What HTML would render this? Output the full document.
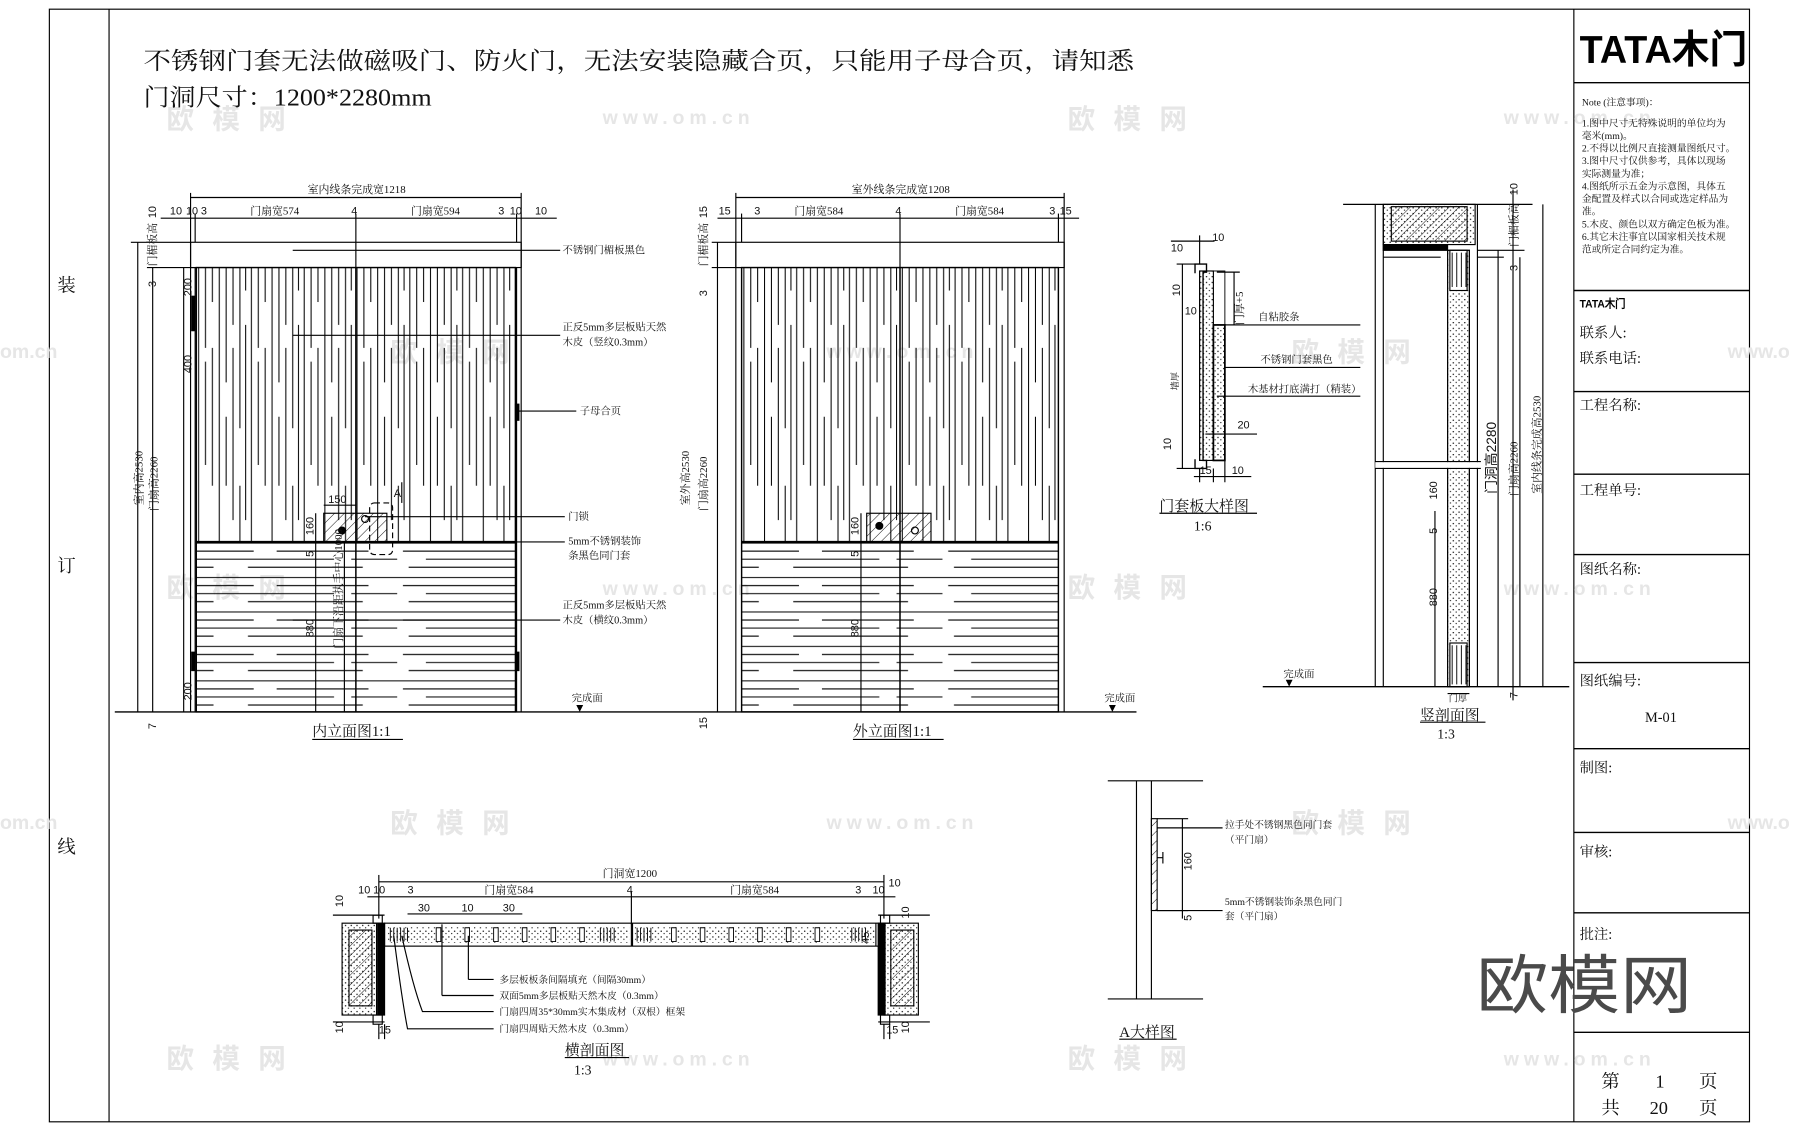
<!DOCTYPE html>
<html><head><meta charset="utf-8"><style>
html,body{margin:0;padding:0;background:#fff;}
svg{display:block}
.t{font-family:"Liberation Serif","Noto Serif CJK SC",serif;fill:#111}
.d{font-family:"Liberation Sans","Noto Sans CJK SC",sans-serif;fill:#111}
</style></head><body>
<svg width="1800" height="1131" viewBox="0 0 1568 985" preserveAspectRatio="none" xmlns="http://www.w3.org/2000/svg">
<defs>
<pattern id="vg" patternUnits="userSpaceOnUse" x="171" y="233" width="46" height="239">
<g stroke="#000" stroke-width="0.9">
<line x1="2" y1="0" x2="2" y2="239"/>
<line x1="8" y1="0" x2="8" y2="239" stroke-dasharray="70 12 90 67"/>
<line x1="14" y1="0" x2="14" y2="239" stroke-dasharray="30 40 120 49"/>
<line x1="20" y1="0" x2="20" y2="239"/>
<line x1="26" y1="0" x2="26" y2="239" stroke-dasharray="100 30 60 49"/>
<line x1="32" y1="0" x2="32" y2="239" stroke-dasharray="50 20 150 19"/>
<line x1="38" y1="0" x2="38" y2="239" stroke-dasharray="140 50 49 0"/>
<line x1="43" y1="0" x2="43" y2="239" stroke-dasharray="20 30 170 19"/>
</g></pattern>
<pattern id="hg" patternUnits="userSpaceOnUse" x="171" y="472" width="278" height="30">
<g stroke="#000" stroke-width="0.9">
<line x1="0" y1="1" x2="278" y2="1"/>
<line x1="0" y1="8" x2="278" y2="8" stroke-dasharray="50 20 80 30 98 0"/>
<line x1="0" y1="15" x2="278" y2="15" stroke-dasharray="120 15 40 25 78 0"/>
<line x1="0" y1="22" x2="278" y2="22" stroke-dasharray="15 30 100 40 93 0"/>
</g></pattern>
<pattern id="ht" patternUnits="userSpaceOnUse" width="6" height="6" patternTransform="rotate(45)">
<line x1="0" y1="0" x2="0" y2="6" stroke="#000" stroke-width="0.8"/></pattern>
<pattern id="dt" patternUnits="userSpaceOnUse" width="5" height="5">
<circle cx="1" cy="1" r="0.6" fill="#000"/><circle cx="3.5" cy="3" r="0.5" fill="#000"/></pattern>
</defs>

<!-- frame -->
<g fill="none" stroke="#000" stroke-width="1">
<rect x="43" y="8" width="1481" height="969"/>
<line x1="95" y1="8" x2="95" y2="977"/>
<line x1="1371" y1="8" x2="1371" y2="977"/>
<g stroke-width="1.2">
<line x1="1371" y1="72" x2="1524" y2="72"/><line x1="1371" y1="253" x2="1524" y2="253"/>
<line x1="1371" y1="341" x2="1524" y2="341"/><line x1="1371" y1="413" x2="1524" y2="413"/>
<line x1="1371" y1="483" x2="1524" y2="483"/><line x1="1371" y1="577" x2="1524" y2="577"/>
<line x1="1371" y1="652" x2="1524" y2="652"/><line x1="1371" y1="725" x2="1524" y2="725"/>
<line x1="1371" y1="795" x2="1524" y2="795"/><line x1="1371" y1="899" x2="1524" y2="899"/>
</g></g>
<text class="t" x="50" y="254" font-size="16">装</text>
<text class="t" x="50" y="498" font-size="16">订</text>
<text class="t" x="50" y="743" font-size="16">线</text>

<!-- watermarks -->
<g class="d" font-size="24" font-weight="bold" style="fill:#e6e6e6">
<text x="145" y="112" textLength="104">欧模网</text><text x="930" y="112" textLength="104">欧模网</text>
<text x="340" y="315" textLength="104">欧模网</text><text x="1125" y="315" textLength="104">欧模网</text>
<text x="145" y="520" textLength="104">欧模网</text><text x="930" y="520" textLength="104">欧模网</text>
<text x="340" y="725" textLength="104">欧模网</text><text x="1125" y="725" textLength="104">欧模网</text>
<text x="145" y="930" textLength="104">欧模网</text><text x="930" y="930" textLength="104">欧模网</text>
</g>
<g class="d" font-size="17" style="fill:#e6e6e6" font-weight="bold">
<text x="525" y="108" textLength="128">www.om.cn</text><text x="1310" y="108" textLength="128">www.om.cn</text>
<text x="0" y="312">om.cn</text><text x="720" y="312" textLength="128">www.om.cn</text><text x="1505" y="312">www.o</text>
<text x="525" y="518" textLength="128">www.om.cn</text><text x="1310" y="518" textLength="128">www.om.cn</text>
<text x="0" y="722">om.cn</text><text x="720" y="722" textLength="128">www.om.cn</text><text x="1505" y="722">www.o</text>
<text x="525" y="928" textLength="128">www.om.cn</text><text x="1310" y="928" textLength="128">www.om.cn</text>
</g>

<!-- title -->
<text class="t" x="125" y="60" font-size="21" textLength="863" lengthAdjust="spacingAndGlyphs">不锈钢门套无法做磁吸门、防火门，无法安装隐藏合页，只能用子母合页，请知悉</text>
<text class="t" x="125" y="92" font-size="21" textLength="251" lengthAdjust="spacingAndGlyphs">门洞尺寸：1200*2280mm</text>

<!-- title block texts -->
<text x="1376" y="55" font-family="Liberation Sans,Noto Sans CJK SC,sans-serif" font-weight="bold" font-size="34" textLength="146" lengthAdjust="spacingAndGlyphs">TATA木门</text>
<g class="t" font-size="8.5">
<text x="1378" y="92">Note (注意事项)：</text>
<text x="1378" y="110">1.图中尺寸无特殊说明的单位均为</text>
<text x="1378" y="121">毫米(mm)。</text>
<text x="1378" y="132">2.不得以比例尺直接测量图纸尺寸。</text>
<text x="1378" y="143">3.图中尺寸仅供参考，具体以现场</text>
<text x="1378" y="154">实际测量为准；</text>
<text x="1378" y="165">4.图纸所示五金为示意图，具体五</text>
<text x="1378" y="176">金配置及样式以合同或选定样品为</text>
<text x="1378" y="187">准。</text>
<text x="1378" y="198">5.木皮、颜色以双方确定色板为准。</text>
<text x="1378" y="209">6.其它未注事宜以国家相关技术规</text>
<text x="1378" y="220">范或所定合同约定为准。</text>
</g>
<text x="1376" y="268" font-family="Liberation Sans,sans-serif" font-weight="bold" font-size="10" textLength="40" lengthAdjust="spacingAndGlyphs">TATA木门</text>
<g class="t" font-size="12.5">
<text x="1376" y="294">联系人:</text><text x="1376" y="316">联系电话:</text>
<text x="1376" y="357">工程名称:</text><text x="1376" y="431">工程单号:</text>
<text x="1376" y="500">图纸名称:</text><text x="1376" y="597">图纸编号:</text>
<text x="1433" y="629">M-01</text>
<text x="1376" y="673">制图:</text><text x="1376" y="746">审核:</text><text x="1376" y="818">批注:</text>
</g>
<g class="t" font-size="16">
<text x="1395" y="947">第</text><text x="1442" y="947">1</text><text x="1480" y="947">页</text>
<text x="1395" y="970">共</text><text x="1437" y="970">20</text><text x="1480" y="970">页</text>
</g>
<text class="d" x="1286" y="878" font-size="56" textLength="188" lengthAdjust="spacingAndGlyphs" style="fill:#4a4a4a">欧模网</text>

<!-- ===== Interior elevation ===== -->
<g fill="none" stroke="#000" stroke-width="1">
<line x1="166" y1="172" x2="454" y2="172"/>
<line x1="140" y1="190" x2="485" y2="190"/>
<line x1="166" y1="168" x2="166" y2="211"/><line x1="454" y1="168" x2="454" y2="211"/>
<line x1="170" y1="186" x2="170" y2="211"/><line x1="450" y1="186" x2="450" y2="211"/>
<line x1="310" y1="186" x2="310" y2="233"/>
<rect x="166" y="211" width="288" height="22"/>
<line x1="166" y1="211" x2="166" y2="620"/><line x1="170" y1="233" x2="170" y2="620"/>
<line x1="454" y1="211" x2="454" y2="620"/><line x1="450" y1="233" x2="450" y2="620"/>
</g>
<rect x="171" y="233" width="278" height="239" fill="url(#vg)"/>
<rect x="171" y="472" width="278" height="148" fill="url(#hg)"/>
<g fill="none" stroke="#000">
<rect x="171" y="233" width="278" height="387" stroke-width="1.2"/>
<line x1="310" y1="233" x2="310" y2="620" stroke-width="1.3"/>
<line x1="171" y1="472" x2="449" y2="472" stroke-width="2"/>
<line x1="100" y1="620" x2="990" y2="620" stroke-width="1.2"/>
<line x1="120" y1="211" x2="120" y2="620"/><line x1="133" y1="233" x2="133" y2="620"/>
<line x1="114" y1="211" x2="166" y2="211"/><line x1="128" y1="233" x2="170" y2="233"/>
<line x1="160" y1="233" x2="160" y2="620"/>
<line x1="275" y1="447" x2="275" y2="620"/><line x1="300" y1="472" x2="300" y2="620"/>
<rect x="282" y="447" width="55" height="25" fill="url(#ht)"/>
<rect x="322" y="438" width="20" height="45" rx="4" stroke-dasharray="5 3"/>
<line x1="282" y1="440" x2="310" y2="440"/>
<circle cx="298" cy="462" r="3" fill="#000"/><circle cx="318" cy="452" r="3"/>
<rect x="167" y="258" width="3" height="30" fill="#000"/><rect x="449" y="352" width="3" height="14" fill="#000"/>
<rect x="167" y="568" width="3" height="16" fill="#000"/><rect x="449" y="568" width="3" height="16" fill="#000"/>
<line x1="255" y1="218" x2="488" y2="218"/>
<line x1="255" y1="292" x2="488" y2="292"/>
<line x1="452" y1="358" x2="502" y2="358"/>
<line x1="318" y1="450" x2="492" y2="450"/>
<line x1="410" y1="472" x2="492" y2="472"/>
<line x1="255" y1="540" x2="488" y2="540"/>
<line x1="350" y1="420" x2="350" y2="438"/>
</g>
<g class="d" font-size="9.5">
<text x="268" y="168" class="t">室内线条完成宽1218</text>
<text x="148" y="187">10</text><text x="162" y="187">10</text><text x="175" y="187">3</text>
<text class="t" x="218" y="187">门扇宽574</text><text x="306" y="187">4</text><text class="t" x="358" y="187">门扇宽594</text>
<text x="434" y="187">3</text><text x="444" y="187">10</text><text x="466" y="187">10</text>
<text x="286" y="438">150</text><text x="343" y="433">A</text>
</g>
<g class="d" font-size="9.5">
<text transform="translate(136,190) rotate(-90)">10</text>
<text class="t" transform="translate(136,232) rotate(-90)">门楣板高</text>
<text transform="translate(136,250) rotate(-90)">3</text>
<text transform="translate(167,258) rotate(-90)">200</text>
<text transform="translate(167,325) rotate(-90)">400</text>
<text class="t" transform="translate(124,440) rotate(-90)">室内高2530</text>
<text class="t" transform="translate(137,445) rotate(-90)">门扇高2260</text>
<text transform="translate(273,466) rotate(-90)">160</text>
<text transform="translate(273,485) rotate(-90)">5</text>
<text class="t" transform="translate(298,565) rotate(-90)">门扇下沿距执手中心1000</text>
<text transform="translate(273,555) rotate(-90)">880</text>
<text transform="translate(167,610) rotate(-90)">200</text>
<text transform="translate(136,635) rotate(-90)">7</text>
</g>
<g class="t" font-size="9">
<text x="490" y="221">不锈钢门楣板黑色</text>
<text x="490" y="288">正反5mm多层板贴天然</text><text x="490" y="301">木皮（竖纹0.3mm）</text>
<text x="505" y="361">子母合页</text>
<text x="495" y="453">门锁</text>
<text x="495" y="474">5mm不锈钢装饰</text><text x="495" y="487">条黑色同门套</text>
<text x="490" y="530">正反5mm多层板贴天然</text><text x="490" y="543">木皮（横纹0.3mm）</text>
<text x="498" y="611">完成面</text><text x="962" y="611">完成面</text>
</g>
<path d="M502 614 l6 0 l-3 6z M966 614 l6 0 l-3 6z" fill="#000"/>
<text class="t" x="272" y="641" font-size="13">内立面图1:1</text><line x1="272" y1="644" x2="351" y2="644" stroke="#000"/>

<!-- ===== Exterior elevation ===== -->
<g fill="none" stroke="#000" stroke-width="1">
<line x1="641" y1="172" x2="927" y2="172"/>
<line x1="625" y1="190" x2="940" y2="190"/>
<line x1="641" y1="168" x2="641" y2="211"/><line x1="927" y1="168" x2="927" y2="211"/>
<line x1="646" y1="186" x2="646" y2="211"/><line x1="922" y1="186" x2="922" y2="211"/>
<line x1="784" y1="186" x2="784" y2="233"/>
<rect x="641" y="211" width="286" height="22"/>
<line x1="641" y1="211" x2="641" y2="620"/><line x1="646" y1="233" x2="646" y2="620"/>
<line x1="927" y1="211" x2="927" y2="620"/><line x1="922" y1="233" x2="922" y2="620"/>
<line x1="620" y1="211" x2="641" y2="211"/><line x1="620" y1="233" x2="646" y2="233"/>
<line x1="625" y1="211" x2="625" y2="620"/>
<line x1="750" y1="447" x2="750" y2="620"/>
</g>
<g transform="translate(475,0)">
<rect x="171" y="233" width="276" height="239" fill="url(#vg)"/>
<rect x="171" y="472" width="276" height="148" fill="url(#hg)"/>
</g>
<g fill="none" stroke="#000">
<rect x="646" y="233" width="276" height="387" stroke-width="1.2"/>
<line x1="784" y1="233" x2="784" y2="620" stroke-width="1.3"/>
<line x1="646" y1="472" x2="922" y2="472" stroke-width="2"/>
<rect x="755" y="447" width="56" height="25" fill="url(#ht)"/>
<circle cx="766" cy="458" r="3" fill="#000"/><circle cx="797" cy="462" r="3"/>
</g>
<g class="d" font-size="9.5">
<text class="t" x="742" y="168">室外线条完成宽1208</text>
<text x="626" y="187">15</text><text x="657" y="187">3</text>
<text class="t" x="692" y="187">门扇宽584</text><text x="780" y="187">4</text><text class="t" x="832" y="187">门扇宽584</text>
<text x="914" y="187">3</text><text x="923" y="187">15</text>
<text transform="translate(616,190) rotate(-90)">15</text>
<text class="t" transform="translate(616,232) rotate(-90)">门楣板高</text>
<text transform="translate(616,258) rotate(-90)">3</text>
<text class="t" transform="translate(600,440) rotate(-90)">室外高2530</text>
<text class="t" transform="translate(616,445) rotate(-90)">门扇高2260</text>
<text transform="translate(748,466) rotate(-90)">160</text>
<text transform="translate(748,485) rotate(-90)">5</text>
<text transform="translate(748,555) rotate(-90)">880</text>
<text transform="translate(616,635) rotate(-90)">15</text>
</g>
<text class="t" x="743" y="641" font-size="13">外立面图1:1</text><line x1="743" y1="644" x2="822" y2="644" stroke="#000"/>

<!-- ===== 门套板大样图 ===== -->
<g fill="none" stroke="#000">
<path d="M1041 238 v-8 h10 v7 h-3 v164 h3 v7 h-10 v-8" stroke-width="1.2"/>
<rect x="1045" y="236" width="12" height="165" fill="url(#dt)"/>
<rect x="1057" y="283" width="10" height="118" fill="url(#dt)"/>
<rect x="1045" y="236" width="22" height="165" stroke-width="0.8" fill="none"/>
<rect x="1057" y="283" width="10" height="118" stroke-width="1.5"/>
<line x1="1025" y1="230" x2="1041" y2="230"/><line x1="1025" y1="408" x2="1041" y2="408"/>
<line x1="1030" y1="230" x2="1030" y2="408"/>
<line x1="1060" y1="237" x2="1080" y2="237"/><line x1="1060" y1="283" x2="1080" y2="283"/>
<line x1="1075" y1="237" x2="1075" y2="283"/>
<line x1="1067" y1="283" x2="1185" y2="283"/>
<line x1="1067" y1="320" x2="1185" y2="320"/>
<line x1="1060" y1="345" x2="1185" y2="345"/>
<line x1="1050" y1="378" x2="1095" y2="378"/>
<line x1="1020" y1="210" x2="1058" y2="210"/><line x1="1045" y1="205" x2="1045" y2="230"/>
<line x1="1040" y1="415" x2="1090" y2="415"/>
<line x1="1045" y1="408" x2="1045" y2="420"/><line x1="1057" y1="408" x2="1057" y2="420"/><line x1="1067" y1="401" x2="1067" y2="420"/>
</g>
<g class="d" font-size="9.5">
<text x="1056" y="210">10</text><text x="1020" y="219">10</text>
<text transform="translate(1028,258) rotate(-90)">10</text>
<text x="1032" y="274">10</text>
<text class="t" transform="translate(1083,283) rotate(-90)">门厚+5</text>
<text class="t" transform="translate(1026,340) rotate(-90)" font-size="8">墙厚</text>
<text x="1078" y="373">20</text>
<text transform="translate(1020,392) rotate(-90)">10</text>
<text x="1045" y="413">15</text><text x="1073" y="413">10</text>
</g>
<g class="t" font-size="9">
<text x="1096" y="279">自粘胶条</text>
<text x="1098" y="316">不锈钢门套黑色</text>
<text x="1087" y="342">木基材打底满打（精装）</text>
</g>
<text class="t" x="1010" y="445" font-size="13">门套板大样图</text><line x1="1010" y1="447" x2="1095" y2="447" stroke="#000"/>
<text class="t" x="1040" y="462" font-size="12">1:6</text>

<!-- ===== 竖剖面图 ===== -->
<g fill="none" stroke="#000">
<line x1="1170" y1="178" x2="1335" y2="178"/>
<line x1="1198" y1="178" x2="1198" y2="598"/><line x1="1205" y1="178" x2="1205" y2="598"/>
<line x1="1287" y1="178" x2="1287" y2="598"/>
<rect x="1205" y="178" width="80" height="35" fill="url(#dt)"/>
<rect x="1212" y="180" width="66" height="30" fill="url(#ht)"/>
<rect x="1205" y="213" width="56" height="5" fill="#000"/>
<line x1="1205" y1="224" x2="1255" y2="224"/>
<rect x="1261" y="218" width="19" height="380" fill="url(#dt)"/>
<rect x="1263" y="218" width="15" height="35" fill="#fff"/>
<rect x="1263" y="560" width="15" height="38" fill="#fff"/>
<path d="M1265 220 v30 M1269 220 v30 M1273 220 v30 M1277 220 v30 M1265 562 v34 M1269 562 v34 M1273 562 v34 M1277 562 v34" stroke-width="0.8"/>
<rect x="1261" y="218" width="19" height="380"/>
<line x1="1198" y1="405" x2="1290" y2="405" stroke="#fff" stroke-width="5"/>
<line x1="1198" y1="402" x2="1290" y2="402"/><line x1="1198" y1="408" x2="1290" y2="408"/>
<line x1="1100" y1="598" x2="1367" y2="598" stroke-width="1.2"/>
<line x1="1305" y1="218" x2="1305" y2="598"/><line x1="1324" y1="224" x2="1324" y2="598"/>
<line x1="1344" y1="178" x2="1344" y2="598"/>
<line x1="1287" y1="218" x2="1328" y2="218"/><line x1="1287" y1="224" x2="1310" y2="224"/>
<line x1="1250" y1="445" x2="1250" y2="598"/>
<line x1="1261" y1="604" x2="1280" y2="604"/>
<line x1="1318" y1="165" x2="1318" y2="610"/>
</g>
<g class="d" font-size="9.5">
<text transform="translate(1322,170) rotate(-90)">10</text>
<text class="t" transform="translate(1322,215) rotate(-90)">门楣板高</text>
<text transform="translate(1322,236) rotate(-90)">3</text>
<text transform="translate(1303,430) rotate(-90)" font-size="12">门洞高2280</text>
<text class="t" transform="translate(1322,432) rotate(-90)">门扇高2260</text>
<text class="t" transform="translate(1342,430) rotate(-90)">室内线条完成高2530</text>
<text transform="translate(1252,435) rotate(-90)">160</text>
<text transform="translate(1252,465) rotate(-90)">5</text>
<text transform="translate(1252,528) rotate(-90)">880</text>
<text transform="translate(1322,608) rotate(-90)">7</text>
</g>
<text class="t" x="1262" y="611" font-size="8">门厚</text>
<text class="t" x="1118" y="590" font-size="9">完成面</text>
<path d="M1120 592 l6 0 l-3 6z" fill="#000"/>
<text class="t" x="1237" y="627" font-size="13">竖剖面图</text><line x1="1237" y1="629" x2="1294" y2="629" stroke="#000"/>
<text class="t" x="1252" y="643" font-size="12">1:3</text>

<!-- ===== 横剖面图 ===== -->
<g fill="none" stroke="#000">
<line x1="330" y1="768" x2="770" y2="768"/>
<line x1="330" y1="762" x2="330" y2="800"/><line x1="770" y1="762" x2="770" y2="800"/>
<line x1="320" y1="781" x2="780" y2="781"/>
<line x1="550" y1="776" x2="550" y2="805"/>
<line x1="355" y1="796" x2="455" y2="796"/>
<rect x="335" y="804" width="215" height="20" />
<rect x="551" y="804" width="215" height="20" />
<rect x="338" y="807" width="210" height="14" fill="url(#dt)" stroke="none"/>
<rect x="553" y="807" width="210" height="14" fill="url(#dt)" stroke="none"/>
<g stroke-width="0.8">
<path d="M340 808 v12 M343 808 v12 M346 808 v12 M349 808 v12 M352 808 v12 M355 808 v12 M523 808 v12 M526 808 v12 M529 808 v12 M532 808 v12 M535 808 v12 M555 808 v12 M558 808 v12 M561 808 v12 M564 808 v12 M567 808 v12 M742 808 v12 M745 808 v12 M748 808 v12 M751 808 v12 M754 808 v12"/>
<path d="M380 808h4v12h-4z M405 808h4v12h-4z M430 808h4v12h-4z M455 808h4v12h-4z M480 808h4v12h-4z M505 808h4v12h-4z M585 808h4v12h-4z M610 808h4v12h-4z M635 808h4v12h-4z M660 808h4v12h-4z M685 808h4v12h-4z M710 808h4v12h-4z" fill="#fff"/>
</g>
<rect x="298" y="804" width="30" height="80" fill="url(#dt)"/>
<rect x="304" y="810" width="20" height="66" fill="url(#ht)"/>
<rect x="329" y="804" width="6" height="80" fill="#000"/>
<rect x="325" y="884" width="8" height="8"/>
<rect x="325" y="797" width="8" height="7"/>
<rect x="770" y="804" width="30" height="80" fill="url(#dt)"/>
<rect x="776" y="810" width="20" height="66" fill="url(#ht)"/>
<rect x="765" y="804" width="6" height="80" fill="#000"/>
<rect x="767" y="884" width="8" height="8"/>
<rect x="767" y="797" width="8" height="7"/>
<line x1="290" y1="797" x2="335" y2="797"/><line x1="290" y1="890" x2="335" y2="890"/>
<line x1="765" y1="797" x2="810" y2="797"/><line x1="765" y1="890" x2="810" y2="890"/>
<line x1="763" y1="804" x2="763" y2="824"/>
<line x1="408" y1="815" x2="408" y2="853"/><line x1="408" y1="853" x2="430" y2="853"/>
<line x1="385" y1="805" x2="385" y2="867"/><line x1="385" y1="867" x2="430" y2="867"/>
<path d="M350 815 Q360 860 368 881 L430 881"/>
<path d="M343 815 Q350 870 355 896 L430 896"/>
<line x1="330" y1="892" x2="330" y2="905"/><line x1="335" y1="892" x2="335" y2="905"/>
<line x1="770" y1="892" x2="770" y2="905"/><line x1="775" y1="892" x2="775" y2="905"/>
</g>
<g class="d" font-size="9.5">
<text class="t" x="525" y="764">门洞宽1200</text>
<text x="312" y="778">10</text><text x="325" y="778">10</text><text x="355" y="778">3</text>
<text class="t" x="422" y="778">门扇宽584</text><text x="546" y="778">4</text><text class="t" x="636" y="778">门扇宽584</text>
<text x="745" y="778">3</text><text x="760" y="778">10</text><text x="774" y="772">10</text>
<text x="364" y="794">30</text><text x="402" y="794">10</text><text x="438" y="794">30</text>
<text transform="translate(757,822) rotate(-90)">45</text>
<text transform="translate(299,790) rotate(-90)">10</text>
<text transform="translate(299,900) rotate(-90)">10</text>
<text transform="translate(792,800) rotate(-90)">10</text>
<text transform="translate(792,900) rotate(-90)">10</text>
<text x="330" y="900">15</text><text x="772" y="900">15</text>
</g>
<g class="t" font-size="8.5">
<text x="435" y="856">多层板板条间隔填充（间隔30mm）</text>
<text x="435" y="870">双面5mm多层板贴天然木皮（0.3mm）</text>
<text x="435" y="884">门扇四周35*30mm实木集成材（双根）框架</text>
<text x="435" y="899">门扇四周贴天然木皮（0.3mm）</text>
</g>
<text class="t" x="492" y="919" font-size="13">横剖面图</text><line x1="492" y1="921" x2="548" y2="921" stroke="#000"/>
<text class="t" x="500" y="936" font-size="12">1:3</text>

<!-- ===== A大样图 ===== -->
<g fill="none" stroke="#000">
<line x1="965" y1="680" x2="1048" y2="680"/><line x1="965" y1="870" x2="1048" y2="870"/>
<line x1="990" y1="680" x2="990" y2="870"/><line x1="1003" y1="680" x2="1003" y2="870"/>
<rect x="1003" y="713" width="5" height="80" fill="url(#ht)"/>
<path d="M1008 747 h5 M1013 742 v10" />
<line x1="1008" y1="713" x2="1035" y2="713"/><line x1="1008" y1="793" x2="1035" y2="793"/>
<line x1="1030" y1="713" x2="1030" y2="800"/>
<line x1="1008" y1="721" x2="1065" y2="721"/><line x1="1008" y1="793" x2="1065" y2="793"/>
</g>
<g class="d" font-size="9.5">
<text transform="translate(1038,758) rotate(-90)">160</text>
<text transform="translate(1038,802) rotate(-90)">5</text>
</g>
<g class="t" font-size="8.5">
<text x="1067" y="721">拉手处不锈钢黑色同门套</text><text x="1067" y="734">（平门扇）</text>
<text x="1067" y="788">5mm不锈钢装饰条黑色同门</text><text x="1067" y="801">套（平门扇）</text>
</g>
<text class="t" x="975" y="903" font-size="13">A大样图</text><line x1="975" y1="905" x2="1025" y2="905" stroke="#000"/>
</svg>
</body></html>
